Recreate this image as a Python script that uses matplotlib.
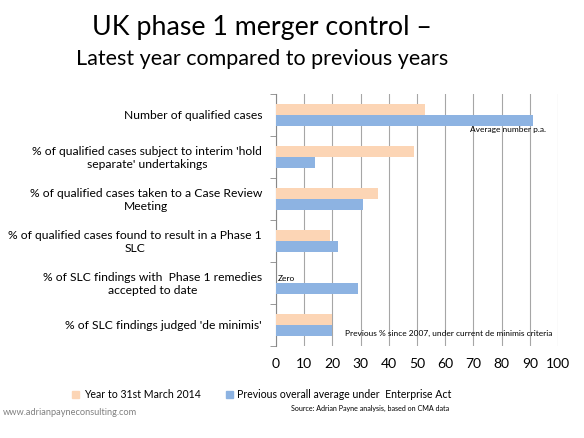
import matplotlib
matplotlib.use("Agg")
import matplotlib.pyplot as plt
import numpy as np

plt.rcParams['font.family'] = ['Lato', 'DejaVu Sans']

categories = [
    "Number of qualified cases",
    "% of qualified cases subject to interim 'hold\nseparate' undertakings",
    "% of qualified cases taken to a Case Review\nMeeting",
    "% of qualified cases found to result in a Phase 1\nSLC",
    "% of SLC findings with  Phase 1 remedies\naccepted to date",
    "% of SLC findings judged 'de minimis'",
]
latest_year = [53, 49, 36, 19, 0, 20]
previous_avg = [91, 14, 31, 22, 29, 20]
series_names = ["Year to 31st March 2014", "Previous overall average under  Enterprise Act"]
x_ticks = list(range(0, 101, 10))

orange = "#FCD5B5"
blue = "#8DB3E2"

fig = plt.figure(figsize=(5.84, 4.39), dpi=100)
ax = fig.add_axes([0.4726, 0.2096, 0.4829, 0.574])

y = np.arange(len(categories))
h = 0.26
ax.barh(y - h / 2, latest_year, height=h, color=orange, zorder=3)
ax.barh(y + h / 2, previous_avg, height=h, color=blue, zorder=3)

ax.set_xlim(0, 100)
ax.set_ylim(len(categories) - 0.5, -0.5)
ax.set_xticks(x_ticks)
ax.set_xticklabels([str(t) for t in x_ticks], fontsize=10)
ax.set_yticks(y)
ax.set_yticklabels([])
ax.set_yticks(np.arange(-0.5, len(categories), 1), minor=True)
ax.tick_params(axis='y', which='major', length=0)
ax.tick_params(axis='y', which='minor', length=4, color='#888888', direction='out')
ax.tick_params(axis='x', length=0, pad=8)

# category labels, centred lines, right edge next to the axis
for i, cat in enumerate(categories):
    ax.annotate(cat, xy=(0, i), xycoords=('axes fraction', 'data'),
                xytext=(-10, 0), textcoords='offset points',
                ha='right', va='center', multialignment='center',
                fontsize=8.7, linespacing=1.3)

ax.grid(axis='x', color='#A6A6A6', linewidth=0.8, zorder=0)
for s in ['top', 'right', 'bottom']:
    ax.spines[s].set_visible(False)
ax.spines['left'].set_color('#888888')

ax.text(68.8, 0.33, "Average number p.a.", fontsize=6, va='center', ha='left', zorder=4)
ax.text(0.8, 3.86, "Zero", fontsize=6, va='center', ha='left', zorder=4)
ax.text(24.5, 5.17, "Previous % since 2007, under current de minimis criteria",
        fontsize=6, va='center', ha='left', zorder=4)

# title
fig.text(262 / 584, 1 - 35 / 439, "UK phase 1 merger control \u2013", fontsize=19.3,
         ha='center', va='baseline')
fig.text(262 / 584, 1 - 65 / 439, "Latest year compared to previous years", fontsize=15.5,
         ha='center', va='baseline')

# legend
fig.patches.append(plt.Rectangle((72 / 584, 1 - 399 / 439), 7 / 584, 7 / 439,
                                 transform=fig.transFigure, color=orange))
fig.text(84 / 584, 1 - 395 / 439, series_names[0], fontsize=7.6, va='center', ha='left')
fig.patches.append(plt.Rectangle((226 / 584, 1 - 399 / 439), 7 / 584, 7 / 439,
                                 transform=fig.transFigure, color=blue))
fig.text(237 / 584, 1 - 395 / 439, series_names[1], fontsize=7.6, va='center', ha='left')

# footer
fig.text(3 / 584, 1 - 413 / 439, "www.adrianpayneconsulting.com", fontsize=6.7,
         color='#808080', va='center', ha='left')
fig.text(291 / 584, 1 - 408 / 439, "Source: Adrian Payne analysis, based on CMA data",
         fontsize=5.1, va='center', ha='left')

fig.savefig("out.png", dpi=100)
